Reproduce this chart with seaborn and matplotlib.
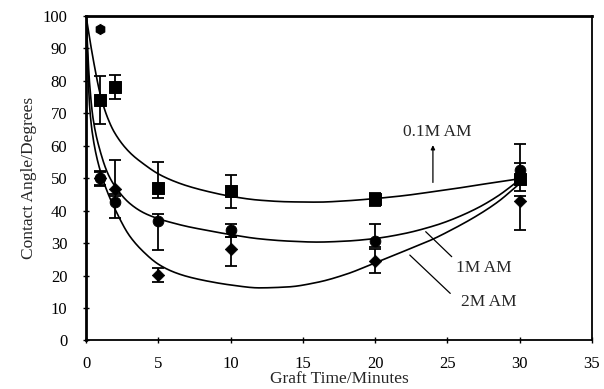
import matplotlib
matplotlib.use("Agg")
import matplotlib.pyplot as plt
import seaborn as sns
import numpy as np
import pandas as pd

# ---- data ----
t_pts = [1, 2, 5, 10, 20, 30]

am01_y = [74, 78, 47, 46, 43.5, 49.7]
am01_lo = [66.6, 74.3, 44, 40.8, 41.5, 46]
am01_hi = [81.4, 81.6, 54.8, 50.9, 45.5, 60.4]

am1_y = [50, 42.5, 36.8, 34, 30.6, 52.5]
am1_lo = [47.5, 37.6, 28, 31.8, 28.9, 50]
am1_hi = [52.2, 44.4, 38.9, 35.8, 35.8, 54.5]

am2_y = [50, 46.6, 20.1, 28.2, 24.6, 42.9]
am2_lo = [48, 45, 18.1, 22.9, 20.7, 34]
am2_hi = [52, 55.7, 22.2, 31.8, 28.2, 44.6]

extra_t = [1]
extra_y = [96]

# fitted curves, read at knots
t_fit = [0, 0.25, 0.5, 1, 1.5, 2, 3, 4, 5, 6, 7, 8.5, 10, 12, 14, 16, 18, 20, 22, 24, 25, 27, 28.5, 30]
fit01 = [100, 93, 86.5, 75.5, 68.5, 63.8, 58, 54.3, 51.3, 49.2, 47.6, 45.8, 44.4, 43.2, 42.7, 42.6,
         43.0, 43.7, 44.6, 45.8, 46.4, 47.8, 48.8, 49.8]
fit1 = [100, 79, 68, 58, 51.5, 47.5, 42.3, 39.3, 37.5, 36.2, 35.1, 33.8, 32.6, 31.3, 30.6, 30.3,
        30.6, 31.4, 32.9, 35.2, 36.7, 40.6, 44.5, 49.5]
fit2 = [100, 72, 62, 52, 45.5, 40.5, 32.3, 27.2, 23.5, 21.2, 19.7, 18.2, 17.1, 16.2, 16.5, 17.9,
        20.4, 23.9, 27.5, 31.2, 33.4, 38.3, 42.7, 48.3]

x_ticks = [0, 5, 10, 15, 20, 25, 30, 35]
y_ticks = [0, 10, 20, 30, 40, 50, 60, 70, 80, 90, 100]


def pchip(x, y, xs):
    """Shape-preserving cubic used only to draw the read knots smoothly."""
    x = np.asarray(x, float); y = np.asarray(y, float)
    h = np.diff(x); d = np.diff(y) / h
    m = np.zeros_like(y)
    for k in range(1, len(x) - 1):
        if d[k - 1] * d[k] > 0:
            w1 = 2 * h[k] + h[k - 1]; w2 = h[k] + 2 * h[k - 1]
            m[k] = (w1 + w2) / (w1 / d[k - 1] + w2 / d[k])
    m[0] = d[0]; m[-1] = d[-1]
    idx = np.clip(np.searchsorted(x, xs) - 1, 0, len(h) - 1)
    hh = h[idx]; s = (xs - x[idx]) / hh
    h00 = 2 * s**3 - 3 * s**2 + 1; h10 = s**3 - 2 * s**2 + s
    h01 = -2 * s**3 + 3 * s**2; h11 = s**3 - s**2
    return h00 * y[idx] + h10 * hh * m[idx] + h01 * y[idx + 1] + h11 * hh * m[idx + 1]


sns.set_style("ticks")
plt.rcParams['font.family'] = ['Liberation Serif', 'DejaVu Serif']

fig = plt.figure(figsize=(6.04, 3.89), dpi=100)
ax = fig.add_axes([0.1424, 0.1247, 0.8376, 0.835])

tt = np.linspace(0, 30, 500)
frames = []
for name, f in (("0.1M", fit01), ("1M", fit1), ("2M", fit2)):
    frames.append(pd.DataFrame({"t": tt, "y": pchip(t_fit, f, tt), "s": name}))
curves = pd.concat(frames, ignore_index=True)
sns.lineplot(data=curves, x="t", y="y", units="s", estimator=None, color="black",
             lw=1.2, ax=ax, sort=False)


def draw(y, lo, hi, marker, size):
    yy = np.array(y); l = np.array(lo); h = np.array(hi)
    ax.errorbar(t_pts, yy, yerr=[yy - l, h - yy], fmt="none", ecolor="black",
                elinewidth=1.3, capsize=4, capthick=1.3, zorder=3)
    sns.scatterplot(x=t_pts, y=y, marker=marker, s=size, color="black",
                    edgecolor="black", ax=ax, zorder=4)


draw(am01_y, am01_lo, am01_hi, "s", 75)
draw(am1_y, am1_lo, am1_hi, "o", 60)
draw(am2_y, am2_lo, am2_hi, "D", 40)
sns.scatterplot(x=extra_t, y=extra_y, marker="h", s=80, color="black", ax=ax, zorder=4)

ax.set_xlim(0, 35)
ax.set_ylim(0, 100)
ax.set_xticks(x_ticks)
ax.set_yticks(y_ticks)
ax.tick_params(direction="inout", length=5, width=1, labelsize=12, colors="black")
ax.tick_params(axis="y", pad=11)
ax.tick_params(axis="x", pad=9)
for sp in ax.spines.values():
    sp.set_visible(True)
    sp.set_linewidth(1.3)
    sp.set_color("black")
ax.spines["top"].set_linewidth(2)
ax.spines["left"].set_linewidth(2)

ax.set_xlabel("Graft Time/Minutes", fontsize=12.5, labelpad=-1)
ax.set_ylabel("Contact Angle/Degrees", fontsize=12.5, labelpad=4)

ax.text(24.3, 64.2, "0.1M AM", fontsize=12.5, ha="center", va="center")
ax.annotate("", xy=(24, 61), xytext=(24, 47.8),
            arrowprops=dict(arrowstyle="-|>", color="black", lw=0.9, mutation_scale=6))
ax.text(27.5, 22.2, "1M AM", fontsize=12.5, ha="center", va="center")
ax.plot([23.5, 25.3], [33.5, 25.8], color="black", lw=0.9)
ax.text(27.9, 11.9, "2M AM", fontsize=12.5, ha="center", va="center")
ax.plot([22.4, 25.2], [26.3, 14.5], color="black", lw=0.9)

fig.savefig("out.png", dpi=100)
